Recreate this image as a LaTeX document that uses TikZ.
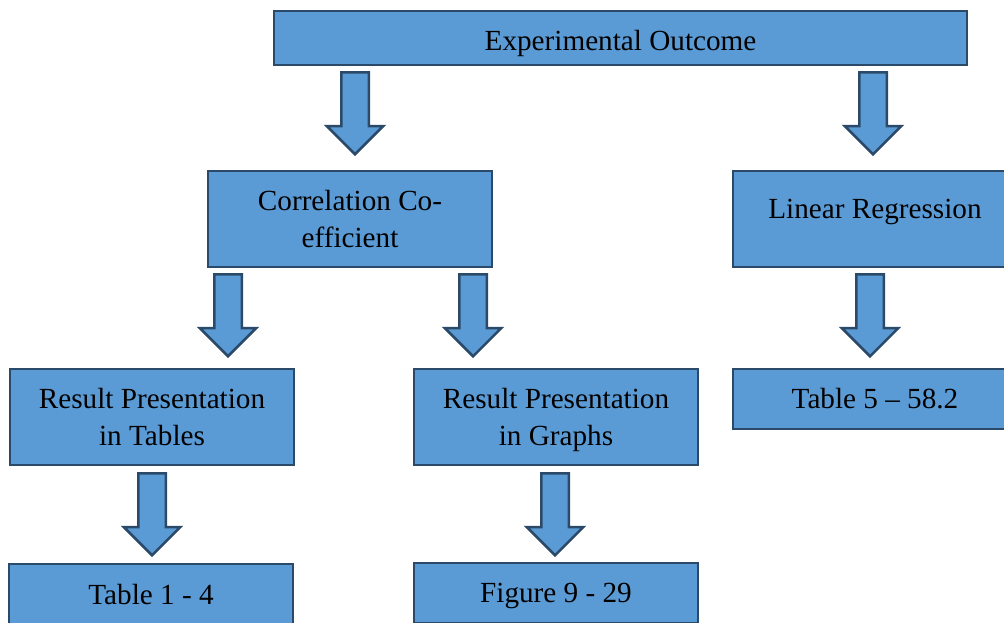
\documentclass[tikz,border=0pt]{standalone}
\usepackage{fontspec}
\setmainfont{Liberation Serif}
\usepackage{tikz}
\usetikzlibrary{shapes.arrows}
\definecolor{boxBlue}{HTML}{5B9BD5}
\definecolor{boxLine}{HTML}{2B4A69}
\newcommand{\boxfont}{\fontsize{14.6}{18.5}\selectfont}
\newcommand{\nodesc}[1]{\raisebox{0pt}[\height][0pt]{#1}}
\tikzset{
  outbox/.style={rectangle, draw=boxLine, fill=boxBlue, line width=1.25pt, align=center, font=\boxfont, inner sep=0pt, minimum width=142pt, minimum height=48pt},
  flatbox/.style={outbox, minimum height=30pt},
  boxtext/.style={font=\boxfont, yshift=#1},
  downarrow/.style={single arrow, shape border rotate=270, anchor=tail, draw=boxLine, fill=boxBlue, line width=1.25pt, inner sep=6.25pt, minimum height=41pt, minimum width=27pt, single arrow head extend=7.25pt},
}
\begin{document}
\begin{tikzpicture}[x=0.5pt,y=-0.5pt]
  \useasboundingbox (0,0) rectangle (1004,622);
  \clip (0,0) rectangle (1004,622);

  % boxes
  \node[outbox, minimum width=346.5pt, minimum height=27pt, label={[boxtext=-2.5pt]center:Experimental Outcome}] (outcome) at (620.5,38) {};
  \node[outbox] (corr) at (350,219) {Correlation Co-\\efficient};
  \node[outbox, label={[boxtext=3.5pt]center:Linear Regression}] (linreg) at (875,219) {};
  \node[outbox] (restab) at (152,417) {Result Presentation\\in Tables};
  \node[outbox] (resgraph) at (556,417) {Result Presentation\\\nodesc{in Graphs}};
  \node[flatbox] (tab5) at (875,399) {Table 5 -- 58.2};
  \node[flatbox] (tab14) at (151,594) {Table 1 - 4};
  \node[flatbox] (fig929) at (556,593) {\nodesc{Figure 9 - 29}};

  % block arrows
  \node[downarrow] (outcome-corr) at (355,71) {};
  \node[downarrow] (outcome-linreg) at (873,71) {};
  \node[downarrow] (corr-restab) at (228,273) {};
  \node[downarrow] (corr-resgraph) at (473,273) {};
  \node[downarrow] (linreg-tab5) at (870,273) {};
  \node[downarrow] (restab-tab14) at (152,472) {};
  \node[downarrow] (resgraph-fig929) at (555,472) {};
\end{tikzpicture}
\end{document}
